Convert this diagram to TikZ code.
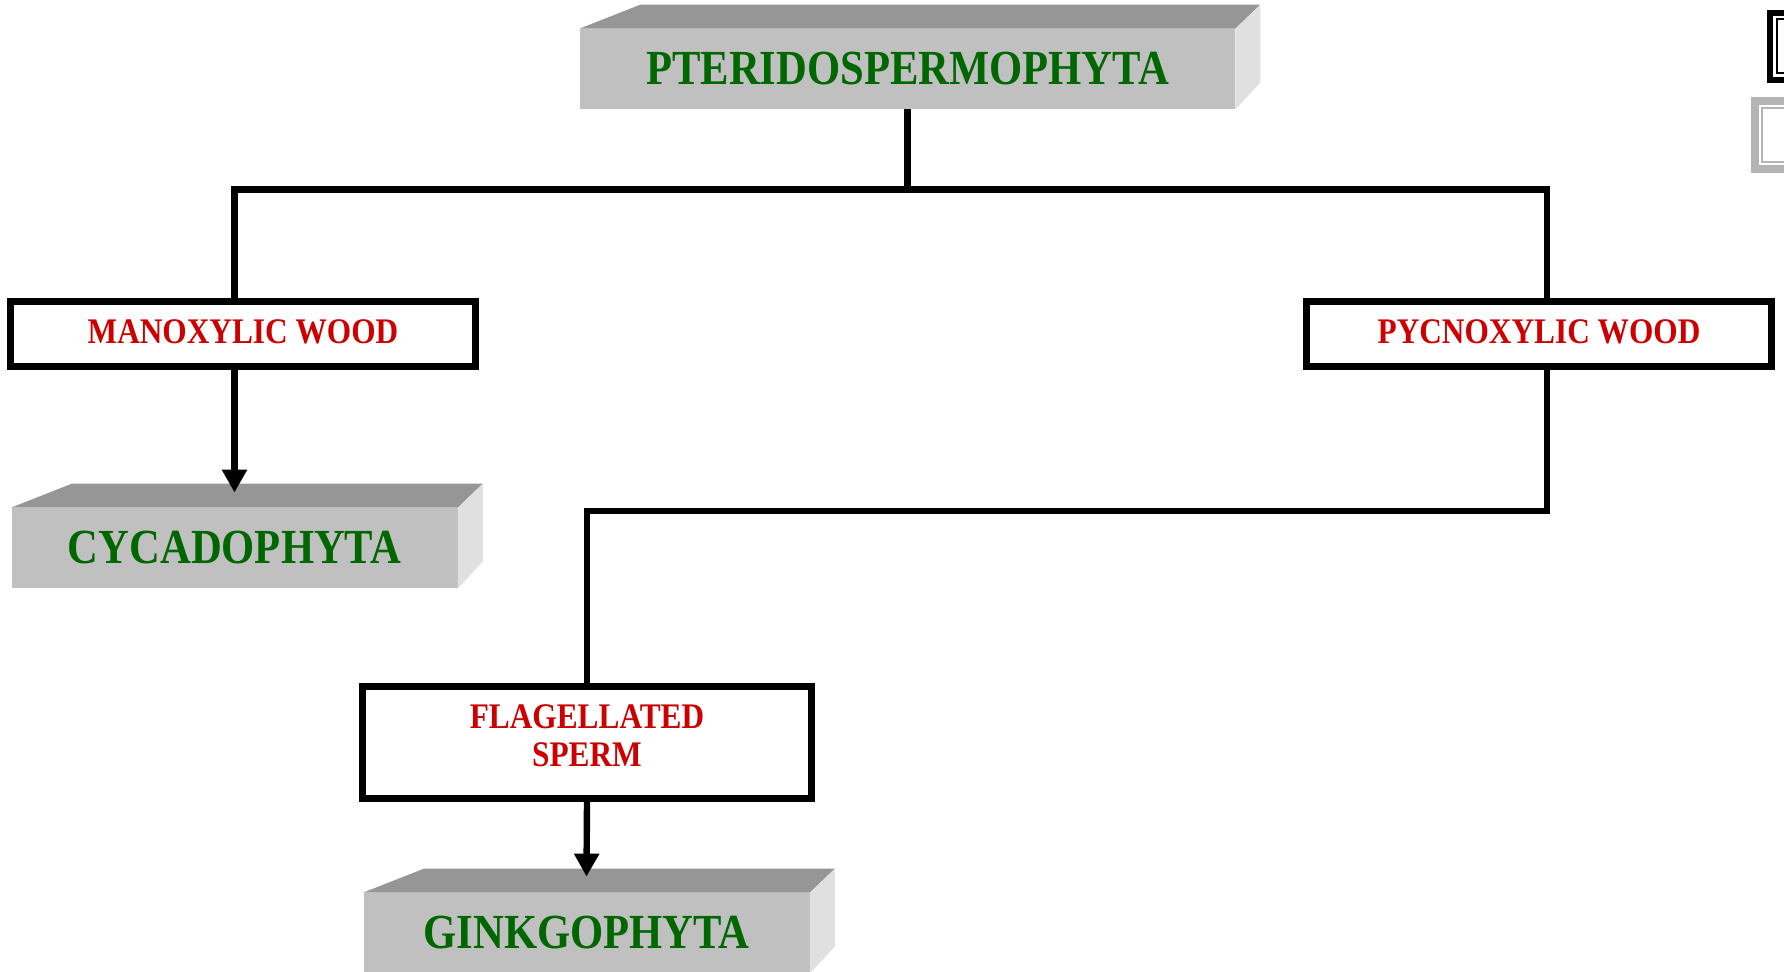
\documentclass[tikz,border=0pt]{standalone}
\usepackage{fontspec}
\newfontfamily\chartfont{Liberation Serif}[FakeStretch=0.87]
\usepackage{tikz}
\usetikzlibrary{positioning,calc,arrows.meta}
\definecolor{taxon}{HTML}{006600}
\definecolor{trait}{HTML}{CC0000}
\definecolor{slabfront}{HTML}{C0C0C0}
\definecolor{slabtop}{HTML}{969696}
\definecolor{slabside}{HTML}{E0E0E0}
\definecolor{thumbgray}{HTML}{B4B4B4}

\begin{document}
\begin{tikzpicture}[x=0.5pt,y=0.5pt,
  slab/.style={fill=slabfront,minimum width=223pt,minimum height=40pt,inner sep=0pt,text=taxon,font=\chartfont\bfseries\fontsize{24.5}{29}\selectfont},
  traitbox/.style={draw,line width=3.5pt,fill=white,minimum width=232.5pt,minimum height=32.5pt,align=center,inner sep=0pt,text depth=2pt,text=trait,font=\chartfont\bfseries\fontsize{18}{19}\selectfont},
  link/.style={line width=3.2pt},
  arr/.style={link,-{Triangle[width=12pt,length=11.5pt]}}]
  \clip (0,0) rectangle (1784,-972);

  \node[slab,minimum width=327.5pt] (top) at (907.5,-69) {PTERIDOSPERMOPHYTA};
  \node[slab] (cyc) at (234.5,-548) {CYCADOPHYTA};
  \node[slab] (ginkgo) at (586.5,-933) {GINKGOPHYTA};
  \foreach \n in {top,cyc,ginkgo}{
    \fill[slabtop] (\n.north west) -- ++(61,24) -- ($(\n.north east)+(25,24)$) -- (\n.north east) -- cycle;
    \fill[slabside] (\n.north east) -- ++(25,24) -- ($(\n.south east)+(25,27)$) -- (\n.south east) -- cycle;
  }

  \node[traitbox] (manox) at (243,-334) {MANOXYLIC WOOD};
  \node[traitbox] (pycno) at (1539,-334) {PYCNOXYLIC WOOD};
  \node[traitbox,minimum width=224.5pt,minimum height=56pt,text depth=7pt] (flag) at (587,-742.5) {FLAGELLATED\\SPERM};

  % tree
  \coordinate (fork) at ($(top.south)+(0,-80)$);
  \draw[link] (top.south) -- (fork);
  \draw[link] (cyc.north |- manox.north) |- (fork) -| ([xshift=4pt]pycno.north);
  \draw[arr] (cyc.north |- manox.south) -- ([yshift=7.5pt]cyc.north);
  \draw[link] ([xshift=4pt]pycno.south) -- ++(0,-141) -| (flag.north);
  \draw[arr] (flag.south) -- ([yshift=8pt]ginkgo.north);

  % slide thumbnails at the edge
  \fill[black] (1767,-10) rectangle (1790,-83);
  \fill[white] (1773,-16) rectangle (1790,-77);
  \draw[line width=1pt] (1776.5,-19.5) rectangle (1795,-73.5);
  \fill[thumbgray] (1751,-97) rectangle (1790,-173);
  \fill[white] (1759,-105) rectangle (1790,-165);
  \draw[thumbgray,line width=1pt] (1762,-108) rectangle (1795,-162);
\end{tikzpicture}
\end{document}
